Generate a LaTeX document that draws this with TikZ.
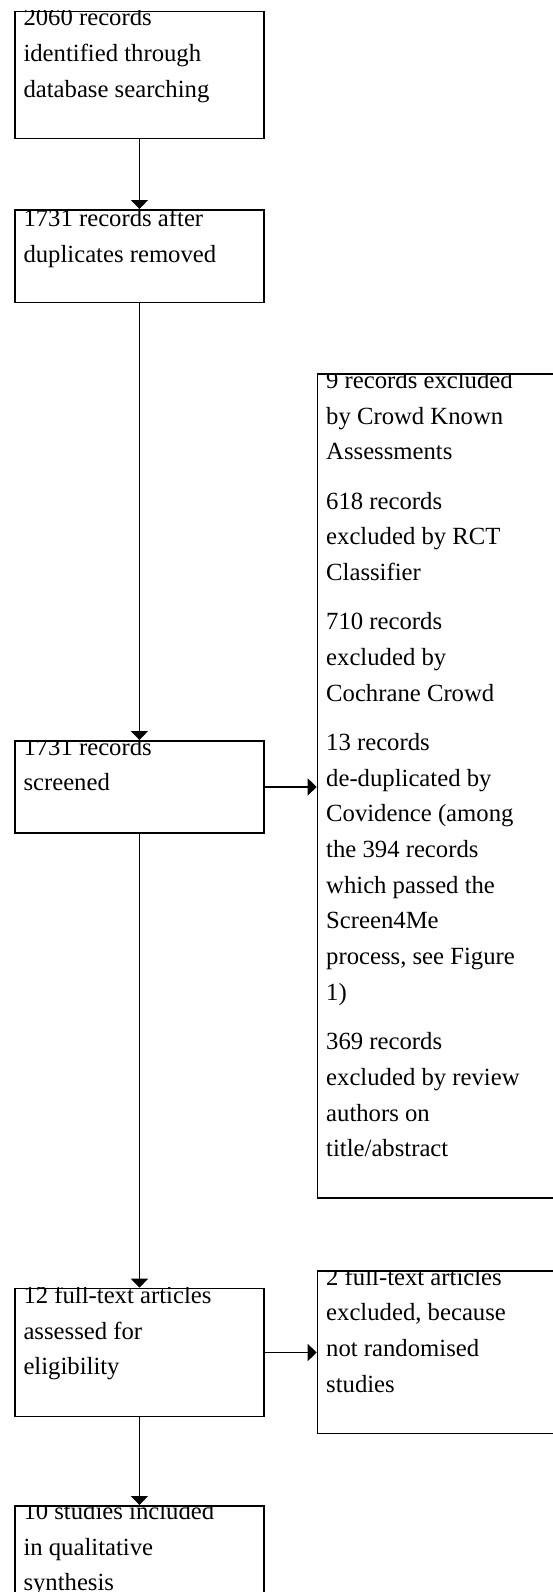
\documentclass[tikz,border=0pt]{standalone}
\usepackage{fontspec}
\setmainfont{Liberation Serif}
\usetikzlibrary{arrows.meta}
\tikzset{
  box/.style={draw=black, line width=1.6pt, inner sep=0pt, anchor=north west},
  txt/.style={anchor=base west, inner sep=0pt, font=\fontsize{24.7}{35.7}\selectfont},
  flow/.style={line width=1.6pt, -{Triangle[width=17pt,length=9pt]}},
}
\newcommand{\bxt}[1]{\parbox[t]{235pt}{\raggedright #1}}
\begin{document}
\begin{tikzpicture}[x=1pt,y=-1pt]
\useasboundingbox (0,0) rectangle (553,1592);
\clip (0,0) rectangle (553,1592);
% boxes
\node[box, minimum width=249.3pt, minimum height=127pt] (b1) at (14,10.7) {};
\node[box, minimum width=249.3pt, minimum height=92.7pt] (b2) at (14,209) {};
\node[box, minimum width=249.3pt, minimum height=92.3pt] (b3) at (14,740) {};
\node[box, minimum width=249.3pt, minimum height=128pt] (b4) at (14,1287.7) {};
\node[box, minimum width=249.3pt, minimum height=127pt] (b6) at (14,1505) {};
\node[box, minimum width=249.3pt, minimum height=823.7pt] (s1) at (316.7,373.3) {};
\node[box, minimum width=249.3pt, minimum height=162.7pt] (s2) at (316.7,1270) {};
% texts (clipped to their boxes)
\begin{scope}
\clip (b1.north west) rectangle (b1.south east);
\node[txt] (t1) at (23.3,26) {\bxt{2060 records\\identified through\\database searching}};
\end{scope}
\begin{scope}
\clip (b2.north west) rectangle (b2.south east);
\node[txt] (t2) at (23.3,226.5) {\bxt{1731 records after\\duplicates removed}};
\end{scope}
\begin{scope}
\clip (b3.north west) rectangle (b3.south east);
\node[txt] (t3) at (23.3,755) {\bxt{1731 records\\screened}};
\end{scope}
\begin{scope}
\clip (b4.north west) rectangle (b4.south east);
\node[txt] (t4) at (23.3,1303.3) {\bxt{12 full-text articles\\assessed for\\eligibility}};
\end{scope}
\begin{scope}
\clip (b6.north west) rectangle (b6.south east);
\node[txt] (t6) at (23.3,1519.3) {\bxt{10 studies included\\in qualitative\\synthesis}};
\end{scope}
\begin{scope}
\clip (s1.north west) rectangle (s1.south east);
\node[txt] (ts1) at (326,388.3) {\bxt{9 records excluded\\by Crowd Known\\Assessments\\[13.6pt]618 records\\excluded by RCT\\Classifier\\[13.6pt]710 records\\excluded by\\Cochrane Crowd\\[13.6pt]13 records\\de-duplicated by\\Covidence (among\\the 394 records\\which passed the\\Screen4Me\\process, see Figure\\1)\\[13.6pt]369 records\\excluded by review\\authors on\\title/abstract}};
\end{scope}
\begin{scope}
\clip (s2.north west) rectangle (s2.south east);
\node[txt] (ts2) at (326,1285) {\bxt{2 full-text articles\\excluded, because\\not randomised\\studies}};
\end{scope}
% connectors
\draw[flow] (b1.south) -- (b2.north);
\draw[flow] (b2.south) -- (b3.north);
\draw[flow] (b3.south) -- (b4.north);
\draw[flow] (b4.south) -- (b6.north);
\draw[flow] (b3.east) -- (b3.east -| s1.west);
\draw[flow] (b4.east) -- (b4.east -| s2.west);
\end{tikzpicture}
\end{document}
